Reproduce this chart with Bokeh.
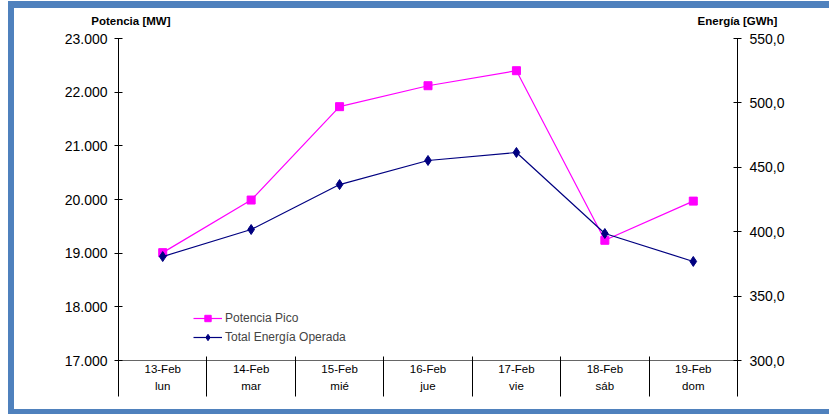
from bokeh.plotting import figure
from bokeh.models import (Range1d, LinearAxis, FixedTicker, Legend, LegendItem)
from bokeh.embed import file_html
from bokeh.resources import INLINE

# ---- data ----
fechas = ["13-Feb", "14-Feb", "15-Feb", "16-Feb", "17-Feb", "18-Feb", "19-Feb"]
dias = ["lun", "mar", "mié", "jue", "vie", "sáb", "dom"]
potencia_pico = [19010, 19990, 21730, 22120, 22400, 19240, 19970]
energia_operada = [380.7, 401.7, 436.6, 455.3, 461.5, 398.6, 376.9]
pot_ticks = [17000, 18000, 19000, 20000, 21000, 22000, 23000]
pot_tick_labels = ["17.000", "18.000", "19.000", "20.000", "21.000", "22.000", "23.000"]
ene_ticks = [300, 350, 400, 450, 500, 550]
ene_tick_labels = ["300,0", "350,0", "400,0", "450,0", "500,0", "550,0"]

FONT = "Liberation Sans"
BLUE = "#4F81BD"
# canvas placed at x=14, y=8 of the page; blue frame drawn as box shadows
W, H = 815, 401
ML, MR, MT, MB = 104, 92, 30, 49
n = len(fechas)
xs = [i + 0.5 for i in range(n)]

p = figure(width=W, height=H, output_backend="svg", toolbar_location=None,
           x_range=Range1d(0, n), y_range=Range1d(17000, 23000),
           min_border_left=ML, min_border_right=MR, min_border_top=MT,
           min_border_bottom=MB, x_axis_type=None, y_axis_type=None)
p.styles = {"margin-left": "14px", "margin-top": "8px",
            "box-shadow": (f"0 -7px 0 0 {BLUE}, -6px 0 0 0 {BLUE}, "
                           f"-6px -7px 0 0 {BLUE}, 0 5px 0 0 {BLUE}, "
                           f"-6px 5px 0 0 {BLUE}")}
p.xgrid.visible = False
p.ygrid.visible = False
p.outline_line_color = None
p.background_fill_color = "white"
p.border_fill_color = "white"
p.extra_y_ranges = {"e": Range1d(300, 550)}

# left axis
la = LinearAxis(ticker=FixedTicker(ticks=pot_ticks, minor_ticks=[]),
                major_label_overrides={t: l for t, l in zip(pot_ticks, pot_tick_labels)})
la.major_tick_in = 4
la.major_tick_out = 4
la.major_label_standoff = 7
la.major_label_text_font = FONT
la.major_label_text_font_size = "14px"
la.major_label_text_color = "black"
la.axis_line_color = "black"
la.major_tick_line_color = "black"
p.add_layout(la, "left")

# right axis
ra = LinearAxis(y_range_name="e", ticker=FixedTicker(ticks=ene_ticks, minor_ticks=[]),
                major_label_overrides={t: l for t, l in zip(ene_ticks, ene_tick_labels)})
ra.major_tick_in = 4
ra.major_tick_out = 4
ra.major_label_standoff = 8
ra.major_label_text_font = FONT
ra.major_label_text_font_size = "14px"
ra.major_label_text_color = "black"
ra.axis_line_color = "black"
ra.major_tick_line_color = "black"
p.add_layout(ra, "right")

def label_axis(labels, line_color, standoff):
    ax = LinearAxis(ticker=FixedTicker(ticks=xs, minor_ticks=[]),
                    major_label_overrides={x: t for x, t in zip(xs, labels)})
    ax.axis_line_color = line_color
    ax.major_tick_line_color = None
    ax.major_tick_in = 0
    ax.major_tick_out = 0
    ax.major_label_standoff = standoff
    ax.major_label_text_font = FONT
    ax.major_label_text_font_size = "11.5px"
    ax.major_label_text_color = "black"
    return ax

# bottom axis 1: dates; bottom axis 2: weekdays
p.add_layout(label_axis(fechas, "#666666", 2), "below")
p.add_layout(label_axis(dias, None, 2), "below")

# bottom axis 3: only the category separators (ticks reaching up to the frame)
sep = LinearAxis(ticker=FixedTicker(ticks=[], minor_ticks=list(range(n + 1))))
sep.axis_line_color = None
sep.major_tick_line_color = None
sep.major_label_text_font_size = "1px"
sep.major_label_standoff = 0
sep.minor_tick_line_color = "black"
sep.minor_tick_in = 38
sep.minor_tick_out = 2
p.add_layout(sep, "below")

# axis titles as an axis above (no line / ticks)
ta = LinearAxis(ticker=FixedTicker(ticks=[0.14, 7.0], minor_ticks=[]),
                major_label_overrides={0.14: "Potencia [MW]", 7.0: "Energía [GWh]"})
ta.axis_line_color = None
ta.major_tick_line_color = None
ta.major_tick_in = 0
ta.major_tick_out = 0
ta.major_label_standoff = 12
ta.major_label_text_font = FONT
ta.major_label_text_font_size = "11.5px"
ta.major_label_text_font_style = "bold"
ta.major_label_text_color = "black"
p.add_layout(ta, "above")

# series
l1 = p.line(xs, potencia_pico, line_color="#FF00FF", line_width=1.2)
m1 = p.scatter(xs, potencia_pico, marker="square", size=8, fill_color="#FF00FF",
               line_color="#FF00FF")
l2 = p.line(xs, energia_operada, y_range_name="e", line_color="#000080", line_width=1.2)
m2 = p.scatter(xs, energia_operada, y_range_name="e", marker="diamond", size=10,
               fill_color="#000080", line_color="#000080")

leg = Legend(items=[LegendItem(label="Potencia Pico", renderers=[l1, m1]),
                    LegendItem(label="Total Energía Operada", renderers=[l2, m2])],
             location=(75, 15))
leg.padding = 0
leg.margin = 0
leg.spacing = 3
leg.glyph_width = 29
leg.glyph_height = 16
leg.label_height = 16
leg.label_standoff = 3
leg.label_text_font = FONT
leg.label_text_font_size = "12px"
leg.border_line_color = None
leg.background_fill_alpha = 0
p.add_layout(leg, "center")

open("out.html", "w").write(file_html(p, INLINE))
